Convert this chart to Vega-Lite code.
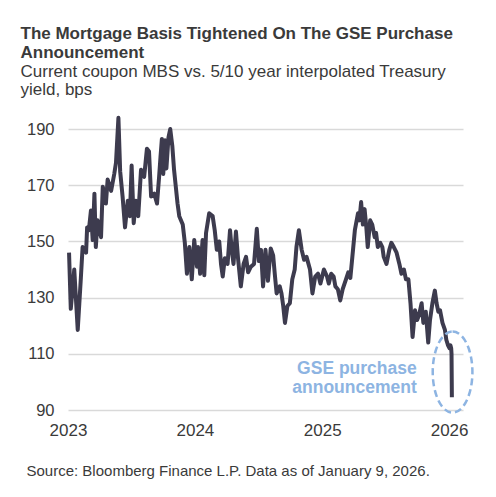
{
  "$schema": "https://vega.github.io/schema/vega-lite/v6.json",
  "width": 395,
  "height": 295,
  "padding": {"left": 20, "top": 24, "right": 20, "bottom": 18},
  "config": {
    "font": "Liberation Sans",
    "view": {"stroke": null}
  },
  "title": {
    "text": ["The Mortgage Basis Tightened On The GSE Purchase", "Announcement"],
    "subtitle": ["Current coupon MBS vs. 5/10 year interpolated Treasury", "yield, bps"],
    "anchor": "start",
    "frame": "bounds",
    "dx": -5.5,
    "font": "Liberation Sans",
    "fontSize": 17,
    "fontWeight": "bold",
    "color": "#3a3a3a",
    "lineHeight": 19,
    "subtitleFont": "Liberation Sans",
    "subtitleFontSize": 17,
    "subtitleColor": "#3a3a3a",
    "subtitleLineHeight": 18.5,
    "subtitlePadding": 2,
    "offset": 16
  },
  "data": {
    "values": [
      {"d": "2023-01-04", "v": 146},
      {"d": "2023-01-09", "v": 126},
      {"d": "2023-01-19", "v": 140},
      {"d": "2023-01-29", "v": 118.5},
      {"d": "2023-02-07", "v": 137},
      {"d": "2023-02-12", "v": 148},
      {"d": "2023-02-22", "v": 146},
      {"d": "2023-02-25", "v": 155},
      {"d": "2023-03-02", "v": 154},
      {"d": "2023-03-08", "v": 161},
      {"d": "2023-03-13", "v": 150.5},
      {"d": "2023-03-18", "v": 167},
      {"d": "2023-03-22", "v": 148},
      {"d": "2023-03-27", "v": 157.5},
      {"d": "2023-04-06", "v": 151.5},
      {"d": "2023-04-11", "v": 169.5},
      {"d": "2023-04-20", "v": 163.5},
      {"d": "2023-04-25", "v": 172},
      {"d": "2023-05-05", "v": 168},
      {"d": "2023-05-14", "v": 174},
      {"d": "2023-05-19", "v": 178},
      {"d": "2023-05-26", "v": 194},
      {"d": "2023-05-31", "v": 175},
      {"d": "2023-06-07", "v": 166},
      {"d": "2023-06-14", "v": 155},
      {"d": "2023-06-22", "v": 164.5},
      {"d": "2023-06-28", "v": 159},
      {"d": "2023-07-03", "v": 177},
      {"d": "2023-07-09", "v": 156.5},
      {"d": "2023-07-15", "v": 164.5},
      {"d": "2023-07-22", "v": 159},
      {"d": "2023-07-30", "v": 175.5},
      {"d": "2023-08-08", "v": 173},
      {"d": "2023-08-16", "v": 183},
      {"d": "2023-08-22", "v": 182},
      {"d": "2023-08-28", "v": 166},
      {"d": "2023-09-06", "v": 167},
      {"d": "2023-09-14", "v": 163.5},
      {"d": "2023-09-20", "v": 173},
      {"d": "2023-09-24", "v": 180},
      {"d": "2023-09-28", "v": 186.5},
      {"d": "2023-10-02", "v": 174},
      {"d": "2023-10-07", "v": 186},
      {"d": "2023-10-11", "v": 176},
      {"d": "2023-10-17", "v": 187},
      {"d": "2023-10-22", "v": 190},
      {"d": "2023-10-28", "v": 184},
      {"d": "2023-11-02", "v": 175.5},
      {"d": "2023-11-07", "v": 169.5},
      {"d": "2023-11-12", "v": 163.5},
      {"d": "2023-11-17", "v": 159},
      {"d": "2023-11-27", "v": 156},
      {"d": "2023-12-03", "v": 149.5},
      {"d": "2023-12-09", "v": 138.5},
      {"d": "2023-12-16", "v": 148},
      {"d": "2023-12-23", "v": 136.5},
      {"d": "2023-12-30", "v": 150.5},
      {"d": "2024-01-07", "v": 141},
      {"d": "2024-01-10", "v": 148},
      {"d": "2024-01-16", "v": 138.5},
      {"d": "2024-01-23", "v": 150.5},
      {"d": "2024-01-28", "v": 138},
      {"d": "2024-02-02", "v": 153},
      {"d": "2024-02-11", "v": 160},
      {"d": "2024-02-21", "v": 159},
      {"d": "2024-02-27", "v": 154},
      {"d": "2024-03-04", "v": 147},
      {"d": "2024-03-11", "v": 150},
      {"d": "2024-03-16", "v": 142},
      {"d": "2024-03-21", "v": 137.5},
      {"d": "2024-03-27", "v": 144},
      {"d": "2024-04-04", "v": 142},
      {"d": "2024-04-11", "v": 154},
      {"d": "2024-04-16", "v": 147},
      {"d": "2024-04-21", "v": 142},
      {"d": "2024-04-28", "v": 153.5},
      {"d": "2024-05-04", "v": 144},
      {"d": "2024-05-12", "v": 134},
      {"d": "2024-05-20", "v": 142},
      {"d": "2024-05-27", "v": 144.5},
      {"d": "2024-06-02", "v": 139},
      {"d": "2024-06-10", "v": 141},
      {"d": "2024-06-19", "v": 142},
      {"d": "2024-06-27", "v": 154.5},
      {"d": "2024-07-03", "v": 143},
      {"d": "2024-07-09", "v": 147},
      {"d": "2024-07-15", "v": 134},
      {"d": "2024-07-22", "v": 147},
      {"d": "2024-07-29", "v": 136},
      {"d": "2024-08-06", "v": 147.5},
      {"d": "2024-08-13", "v": 145},
      {"d": "2024-08-18", "v": 138},
      {"d": "2024-08-23", "v": 131.5},
      {"d": "2024-09-01", "v": 134},
      {"d": "2024-09-06", "v": 131.5},
      {"d": "2024-09-11", "v": 127},
      {"d": "2024-09-16", "v": 121},
      {"d": "2024-09-23", "v": 127},
      {"d": "2024-09-30", "v": 128},
      {"d": "2024-10-07", "v": 136.5},
      {"d": "2024-10-14", "v": 140},
      {"d": "2024-10-19", "v": 148},
      {"d": "2024-10-26", "v": 154},
      {"d": "2024-11-03", "v": 147},
      {"d": "2024-11-10", "v": 143.5},
      {"d": "2024-11-17", "v": 144.5},
      {"d": "2024-11-27", "v": 140},
      {"d": "2024-12-04", "v": 131.5},
      {"d": "2024-12-12", "v": 137.5},
      {"d": "2024-12-20", "v": 138.5},
      {"d": "2024-12-27", "v": 135},
      {"d": "2025-01-06", "v": 140},
      {"d": "2025-01-15", "v": 137.5},
      {"d": "2025-01-20", "v": 135},
      {"d": "2025-01-27", "v": 138.5},
      {"d": "2025-02-03", "v": 137.5},
      {"d": "2025-02-08", "v": 134},
      {"d": "2025-02-15", "v": 133},
      {"d": "2025-02-22", "v": 129},
      {"d": "2025-03-01", "v": 133},
      {"d": "2025-03-09", "v": 136},
      {"d": "2025-03-17", "v": 139},
      {"d": "2025-03-23", "v": 137},
      {"d": "2025-03-28", "v": 143.5},
      {"d": "2025-04-05", "v": 154},
      {"d": "2025-04-14", "v": 160},
      {"d": "2025-04-18", "v": 157.5},
      {"d": "2025-04-23", "v": 164},
      {"d": "2025-04-28", "v": 156},
      {"d": "2025-05-03", "v": 161.5},
      {"d": "2025-05-08", "v": 155},
      {"d": "2025-05-12", "v": 148},
      {"d": "2025-05-19", "v": 157.5},
      {"d": "2025-05-25", "v": 156},
      {"d": "2025-06-01", "v": 151.5},
      {"d": "2025-06-05", "v": 153},
      {"d": "2025-06-10", "v": 148},
      {"d": "2025-06-17", "v": 149.5},
      {"d": "2025-06-23", "v": 148},
      {"d": "2025-06-27", "v": 144.5},
      {"d": "2025-07-05", "v": 142},
      {"d": "2025-07-13", "v": 147},
      {"d": "2025-07-19", "v": 149.5},
      {"d": "2025-07-26", "v": 148},
      {"d": "2025-08-03", "v": 146},
      {"d": "2025-08-11", "v": 142},
      {"d": "2025-08-17", "v": 138.5},
      {"d": "2025-08-24", "v": 140},
      {"d": "2025-08-30", "v": 136.5},
      {"d": "2025-09-06", "v": 136.5},
      {"d": "2025-09-12", "v": 128},
      {"d": "2025-09-18", "v": 116},
      {"d": "2025-09-25", "v": 125.5},
      {"d": "2025-10-01", "v": 122},
      {"d": "2025-10-07", "v": 124},
      {"d": "2025-10-14", "v": 128},
      {"d": "2025-10-19", "v": 121},
      {"d": "2025-10-26", "v": 125},
      {"d": "2025-11-02", "v": 114},
      {"d": "2025-11-07", "v": 122},
      {"d": "2025-11-14", "v": 128},
      {"d": "2025-11-21", "v": 132.5},
      {"d": "2025-11-26", "v": 128},
      {"d": "2025-12-01", "v": 125},
      {"d": "2025-12-06", "v": 125.5},
      {"d": "2025-12-13", "v": 121},
      {"d": "2025-12-20", "v": 118.5},
      {"d": "2025-12-24", "v": 115},
      {"d": "2025-12-29", "v": 113},
      {"d": "2026-01-02", "v": 112},
      {"d": "2026-01-05", "v": 113},
      {"d": "2026-01-07", "v": 112},
      {"d": "2026-01-08", "v": 110},
      {"d": "2026-01-09", "v": 94.5}
    ]
  },
  "encoding": {
    "x": {
      "field": "d",
      "type": "temporal",
      "scale": {
        "type": "utc",
        "domain": [
          {"year": 2023, "month": 1, "date": 1, "utc": true},
          {"year": 2026, "month": 2, "date": 10, "utc": true}
        ]
      },
      "axis": {
        "format": "%Y",
        "tickCount": {"interval": "year", "step": 1},
        "grid": false,
        "domain": false,
        "ticks": false,
        "labelFontSize": 17,
        "labelColor": "#3a3a3a",
        "labelPadding": 12,
        "labelFlush": false,
        "title": "Source: Bloomberg Finance L.P. Data as of January 9, 2026.",
        "titleFontSize": 15,
        "titleFontWeight": "normal",
        "titleColor": "#3a3a3a",
        "titleAnchor": "start",
        "titleAlign": "left",
        "titleBaseline": "alphabetic",
        "titleX": -42,
        "titleY": 65
      }
    },
    "y": {
      "field": "v",
      "type": "quantitative",
      "scale": {"domain": [90, 195], "nice": false, "zero": false},
      "axis": {
        "values": [90, 110, 130, 150, 170, 190],
        "grid": true,
        "gridColor": "#d9d9d9",
        "gridWidth": 1.5,
        "domain": false,
        "ticks": false,
        "labelFontSize": 16.5,
        "labelColor": "#3a3a3a",
        "labelPadding": 14,
        "title": null
      }
    }
  },
  "layer": [
    {
      "mark": {"type": "line", "color": "#3d3b4e", "strokeWidth": 4, "strokeJoin": "round"}
    },
    {
      "data": {"values": [{"d": "2025-09-30", "v": 104.6, "label": "GSE purchase\nannouncement"}]},
      "mark": {
        "type": "text",
        "align": "right",
        "baseline": "middle",
        "fontSize": 17.5,
        "fontWeight": "bold",
        "color": "#8db4e2",
        "lineBreak": "\n",
        "lineHeight": 19
      },
      "encoding": {"text": {"field": "label"}}
    },
    {
      "data": {"values": [{"d": "2026-01-11", "v": 103.5}]},
      "mark": {
        "type": "point",
        "shape": "M0,-1C0.2706,-1,0.49,-0.5523,0.49,0C0.49,0.5523,0.2706,1,0,1C-0.2706,1,-0.49,0.5523,-0.49,0C-0.49,-0.5523,-0.2706,-1,0,-1Z",
        "size": 6561,
        "filled": false,
        "color": "#8db4e2",
        "strokeWidth": 2.5,
        "strokeDash": [7, 4],
        "opacity": 1
      }
    }
  ]
}
